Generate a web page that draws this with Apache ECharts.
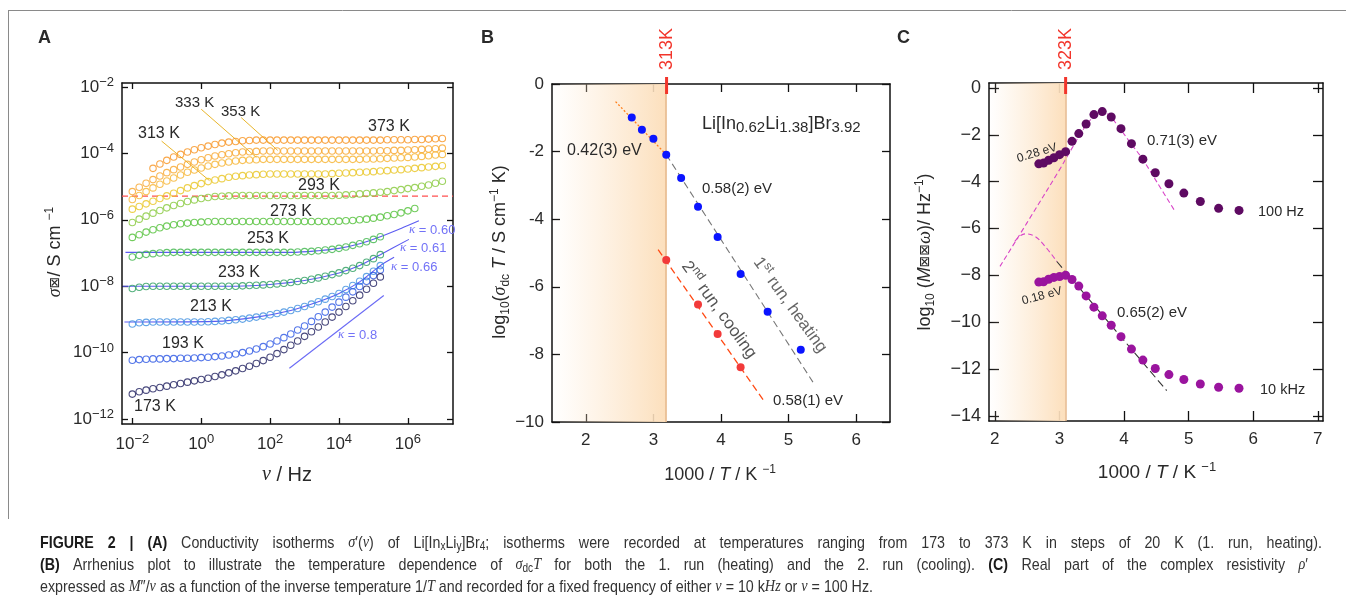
<!DOCTYPE html>
<html>
<head>
<meta charset="utf-8">
<script src="https://cdn.jsdelivr.net/npm/echarts@6/dist/echarts.min.js"></script>
<style>
  html, body { margin: 0; padding: 0; background: #fff; }
  #main { width: 1346px; height: 602px; }
</style>
</head>
<body>
<div id="main"></div>
<script>
// ---- panel A : conductivity isotherms, log10 values ----
var logFreq = [-2,-1.8,-1.6,-1.4,-1.2,-1,-0.8,-0.6,-0.4,-0.2,0,0.2,0.4,0.6,0.8,1,1.2,1.4,1.6,1.8,
  2,2.2,2.4,2.6,2.8,3,3.2,3.4,3.6,3.8,4,4.2,4.4,4.6,4.8,5,5.2,5.4,5.6,5.8,6,6.2,6.4,6.6,6.8,7];

var sig373 = [null,null,null,-4.45,-4.32,-4.21,-4.11,-4.03,-3.96,-3.89,-3.83,-3.78,-3.73,-3.69,-3.66,-3.64,-3.62,-3.61,
  -3.60,-3.60,-3.60,-3.60,-3.60,-3.60,-3.60,-3.60,-3.60,-3.60,-3.60,-3.60,-3.60,-3.60,-3.60,-3.60,-3.60,-3.60,-3.60,
  -3.59,-3.59,-3.59,-3.59,-3.58,-3.58,-3.57,-3.56,-3.55];
var sig353 = [-5.15,-5.02,-4.90,-4.79,-4.68,-4.58,-4.49,-4.41,-4.33,-4.26,-4.19,-4.13,-4.08,-4.04,-4.01,-3.98,-3.96,-3.95,-3.94,-3.93,
  -3.93,-3.93,-3.93,-3.93,-3.93,-3.93,-3.93,-3.93,-3.93,-3.93,-3.93,-3.93,-3.93,-3.93,-3.93,-3.93,
  -3.92,-3.92,-3.91,-3.91,-3.90,-3.89,-3.88,-3.87,-3.86,-3.84];
var sig333 = [-5.39,-5.27,-5.15,-5.04,-4.93,-4.83,-4.74,-4.65,-4.57,-4.50,-4.44,-4.38,-4.33,-4.29,-4.26,-4.23,-4.21,-4.20,-4.19,
  -4.18,-4.18,-4.18,-4.18,-4.18,-4.18,-4.18,-4.18,-4.18,-4.18,-4.18,-4.18,-4.18,-4.18,-4.18,
  -4.17,-4.17,-4.16,-4.15,-4.14,-4.13,-4.12,-4.11,-4.09,-4.07,-4.05,-4.03];
var sig313 = [-5.68,-5.60,-5.52,-5.44,-5.36,-5.28,-5.20,-5.12,-5.04,-4.97,-4.91,-4.85,-4.80,-4.76,-4.72,-4.69,-4.67,-4.65,-4.64,-4.63,
  -4.62,-4.62,-4.62,-4.62,-4.62,-4.62,-4.62,-4.62,-4.62,
  -4.61,-4.60,-4.59,-4.58,-4.57,-4.56,-4.55,-4.53,-4.52,-4.50,-4.49,-4.47,-4.45,-4.43,-4.41,-4.39,-4.37];
var sig293 = [-6.08,-5.98,-5.89,-5.80,-5.72,-5.64,-5.57,-5.51,-5.45,-5.40,-5.36,-5.33,-5.30,-5.29,-5.28,
  -5.27,-5.27,-5.27,-5.27,-5.27,-5.27,-5.27,-5.27,-5.27,-5.27,-5.27,-5.27,-5.27,-5.27,-5.27,
  -5.26,-5.25,-5.24,-5.22,-5.21,-5.19,-5.17,-5.15,-5.12,-5.09,-5.06,-5.03,-4.99,-4.95,-4.90,-4.84];
var sig273 = [-6.53,-6.45,-6.37,-6.30,-6.24,-6.19,-6.15,-6.12,-6.10,-6.08,-6.07,-6.06,
  -6.05,-6.05,-6.05,-6.05,-6.05,-6.05,-6.05,-6.05,-6.05,-6.05,-6.05,-6.05,-6.05,-6.05,-6.05,-6.05,-6.05,-6.05,
  -6.04,-6.03,-6.02,-6.00,-5.98,-5.95,-5.92,-5.88,-5.84,-5.79,-5.73,-5.66];
var sig253 = [-7.12,-7.07,-7.04,-7.02,-7.00,-6.99,
  -6.98,-6.98,-6.98,-6.98,-6.98,-6.98,-6.98,-6.98,-6.98,-6.98,-6.98,-6.98,-6.98,-6.98,-6.98,-6.98,-6.98,-6.98,
  -6.97,-6.96,-6.95,-6.93,-6.91,-6.89,-6.86,-6.82,-6.77,-6.72,-6.66,-6.59,-6.51];
var sig233 = [-8.07,-8.03,-8.01,-8.00,-8.00,-8.00,-8.00,-8.00,-8.00,-8.00,-8.00,-8.00,-8.00,-8.00,-8.00,-8.00,
  -7.99,-7.98,-7.97,-7.96,-7.95,-7.93,-7.91,-7.89,-7.86,-7.83,-7.79,-7.75,-7.70,-7.65,-7.60,-7.53,-7.46,-7.38,-7.28,-7.17,-7.05];
var sig213 = [-9.14,-9.10,-9.09,-9.08,-9.08,-9.08,-9.08,-9.08,-9.08,-9.08,-9.08,-9.07,-9.06,-9.05,-9.03,-9.01,
  -8.99,-8.96,-8.93,-8.90,-8.86,-8.82,-8.78,-8.73,-8.67,-8.61,-8.54,-8.47,-8.39,-8.31,-8.22,-8.10,-7.98,-7.85,-7.71,-7.55,-7.38];
var sig193 = [-10.23,-10.21,-10.20,-10.19,-10.19,-10.18,-10.18,-10.17,-10.17,-10.16,-10.15,-10.14,-10.12,-10.10,-10.07,-10.04,
  -10.00,-9.95,-9.89,-9.82,-9.74,-9.65,-9.55,-9.44,-9.32,-9.20,-9.06,-8.92,-8.78,-8.63,-8.48,-8.33,-8.17,-8.01,-7.85,-7.68,-7.51];
var sig173 = [-11.25,-11.18,-11.13,-11.09,-11.05,-11.01,-10.97,-10.93,-10.89,-10.85,-10.81,-10.77,-10.72,-10.67,-10.61,-10.55,
  -10.48,-10.41,-10.33,-10.24,-10.14,-10.03,-9.91,-9.78,-9.65,-9.51,-9.37,-9.23,-9.08,-8.93,-8.78,-8.61,-8.44,-8.27,-8.09,-7.91,-7.72];

var isoNames = ['373 K','353 K','333 K','313 K','293 K','273 K','253 K','233 K','213 K','193 K','173 K'];
var isoValues = [sig373, sig353, sig333, sig313, sig293, sig273, sig253, sig233, sig213, sig193, sig173];
var isoColors = ['#f7921e','#f8a52a','#f6b32e','#e8c41f','#86c83a','#4fbf35','#3db54a','#2b9e5e','#3d8fe0','#2b55e3','#1d1d5e'];

var fit253 = [[-2.2,-6.98],[2.6,-6.98],[3.4,-6.93],[4.0,-6.86],[4.6,-6.72],[5.2,-6.51],[5.8,-6.26],[6.32,-6.03]];
var fit233 = [[-2.28,-8.0],[1.0,-8.0],[2.0,-7.95],[3.0,-7.83],[4.0,-7.60],[4.6,-7.38],[5.2,-7.05],[6.03,-6.59]];
var fit213 = [[-2.23,-9.08],[0.4,-9.06],[1.6,-8.93],[2.6,-8.73],[3.4,-8.47],[4.0,-8.22],[4.6,-7.87],[5.2,-7.38],[5.6,-7.13]];
var slope08 = [[2.56,-10.47],[5.30,-8.28]];
var redLevel = [[-2.3,-5.29],[7.31,-5.29]];
var lead333 = [[0.0,-2.67],[1.6,-4.12]];
var lead353 = [[1.16,-2.92],[2.22,-3.91]];
var lead313 = [[-1.15,-3.63],[0.24,-4.82]];

// ---- panel B : Arrhenius plot ----
var invT1 = [2.68, 2.83, 3.00, 3.19, 3.41, 3.66, 3.95, 4.29, 4.69, 5.18];
var logSigT1 = [-0.99, -1.35, -1.62, -2.09, -2.78, -3.63, -4.53, -5.62, -6.74, -7.86];
var invT2 = [3.19, 3.66, 3.95, 4.29];
var logSigT2 = [-5.21, -6.52, -7.40, -8.38];
var fitHot = [[2.44,-0.52],[3.19,-2.09]];
var fitRun1 = [[3.19,-2.09],[5.36,-8.82]];
var fitRun2 = [[3.07,-4.90],[4.63,-9.36]];

// ---- panel C : M''/nu vs 1000/T ----
var invTC = [2.681,2.755,2.833,2.915,3.003,3.096,3.195,3.300,3.413,3.534,3.663,3.802,3.953,4.115,4.292,4.484,4.695,4.926,5.181,5.464,5.780];
var logM100 = [-3.24,-3.21,-3.09,-2.98,-2.85,-2.72,-2.28,-1.95,-1.54,-1.14,-1.01,-1.24,-1.74,-2.38,-3.04,-3.62,-4.09,-4.49,-4.85,-5.14,-5.23];
var logM10k = [-8.29,-8.28,-8.17,-8.09,-8.05,-8.00,-8.18,-8.46,-8.88,-9.36,-9.73,-10.13,-10.62,-11.15,-11.62,-11.98,-12.24,-12.45,-12.64,-12.78,-12.82];
var model100 = [[2.08,-7.62],[2.5,-5.75],[3.0,-3.5],[3.2,-2.55],[3.35,-1.85],[3.5,-1.3],[3.62,-1.05],[3.75,-1.12],[3.9,-1.6],[4.1,-2.35],[4.29,-3.05],[4.5,-3.98],[4.79,-5.27]];
var model10k = [[2.31,-6.55],[2.40,-6.30],[2.47,-6.23],[2.62,-6.34],[2.78,-6.77],[2.96,-7.41]];
var fit10k = [[2.96,-7.41],[4.66,-12.92]];

var T_B = 313, T_C = 323;

var FONT = "'Liberation Sans', Arial, Helvetica, sans-serif";
var SERIF = "'Liberation Serif', 'Times New Roman', serif";
var INK = '#2a2a2a';

function pairs(xs, ys) { return xs.map(function (x, i) { return [x, ys[i]]; }); }

function supRich(fs) {
  return {
    b: { fontSize: fs, fontFamily: FONT, color: INK, lineHeight: Math.round(fs * 1.3) },
    s: { fontSize: 13, fontFamily: FONT, color: INK, verticalAlign: 'top', lineHeight: 13 }
  };
}

function axis(gridIndex, pos, min, max, ticks, tickLen, labels, fmt, rich) {
  return {
    type: 'value', gridIndex: gridIndex, position: pos, min: min, max: max,
    axisLine: { show: true, onZero: false, lineStyle: { color: '#111', width: 1.5 } },
    axisTick: { show: true, inside: true, length: tickLen, customValues: ticks, lineStyle: { color: '#111', width: 1.3 } },
    axisLabel: labels ? { show: true, customValues: ticks, formatter: fmt, rich: rich, margin: 8,
      color: INK, fontSize: 17, fontFamily: FONT } : { show: false },
    splitLine: { show: false }
  };
}

var powFmt = function (v) { return '{b|10}{s|' + (v < 0 ? '\u2212' : '') + Math.abs(v) + '}'; };
var fmtB = function (v) { return v === 0 ? '0' : (v === -10 ? '\u221210' : '-' + Math.abs(v)); };
var fmtC = function (v) { return v === 0 ? '0' : '\u2212' + Math.abs(v); };

var tA_x = [-2, 0, 2, 4, 6], tA_y = [-12, -10, -8, -6, -4, -2];
var tB_x = [2, 3, 4, 5, 6], tB_y = [-10, -8, -6, -4, -2, 0];
var tC_x = [2, 3, 4, 5, 6, 7], tC_y = [-14, -12, -10, -8, -6, -4, -2, 0];

var xAxes = [
  axis(0, 'bottom', -2.30, 7.31, tA_x, 6, true, powFmt, supRich(17)),
  axis(0, 'top', -2.30, 7.31, tA_x, 6, false),
  axis(1, 'bottom', 1.5, 6.5, tB_x, 8, true, function (v) { return String(v); }),
  axis(1, 'top', 1.5, 6.5, tB_x, 8, false),
  axis(2, 'bottom', 1.91, 7.08, tC_x, 10, true, function (v) { return String(v); }),
  axis(2, 'top', 1.91, 7.08, tC_x, 10, false)
];
var yAxes = [
  axis(0, 'left', -12.15, -1.88, tA_y, 6, true, powFmt, supRich(17)),
  axis(0, 'right', -12.15, -1.88, tA_y, 6, false),
  axis(1, 'left', -10, 0, tB_y, 8, true, fmtB),
  axis(1, 'right', -10, 0, tB_y, 8, false),
  axis(2, 'left', -14.22, 0.21, tC_y, 10, true, fmtC),
  axis(2, 'right', -14.22, 0.21, tC_y, 10, false)
];
xAxes[0].axisLabel.margin = 9;
xAxes[2].axisLabel.margin = 10;
xAxes[4].axisLabel.margin = 10;
yAxes[4].axisLabel.fontSize = 18;

// panel index -> axis index
var AX = { A: 0, B: 2, C: 4 };

function line(ai, data, color, width, type, extra) {
  var s = {
    type: 'line', xAxisIndex: ai, yAxisIndex: ai, data: data, showSymbol: false, symbol: 'none',
    lineStyle: { color: color, width: width, type: type }, silent: true, z: 3
  };
  for (var k in extra) s[k] = extra[k];
  return s;
}
function dots(ai, data, color, size) {
  return { type: 'scatter', xAxisIndex: ai, yAxisIndex: ai, data: data, symbol: 'circle', symbolSize: size,
    itemStyle: { color: color, opacity: 1 }, silent: true, z: 5 };
}

var shadeGrad = function () {
  return new echarts.graphic.LinearGradient(0, 0, 1, 0, [
    { offset: 0, color: 'rgba(253,229,200,0)' },
    { offset: 1, color: 'rgba(252,223,188,1)' }
  ]);
};

var series = [];
// A
isoValues.forEach(function (vals, k) {
  var data = [];
  vals.forEach(function (v, i) { if (v != null) data.push([logFreq[i], v]); });
  series.push({
    type: 'scatter', name: isoNames[k], xAxisIndex: AX.A, yAxisIndex: AX.A, data: data, symbol: 'circle', symbolSize: 6.5,
    itemStyle: { color: 'rgba(255,255,255,0)', borderColor: isoColors[k], borderWidth: 1.1 }, silent: true, z: 4
  });
});
series.push(line(AX.A, redLevel, '#ff5050', 1.2, [6, 4]));
series.push(line(AX.A, fit253, '#5c5cf2', 1.1, 'solid', { smooth: 0.3 }));
series.push(line(AX.A, fit233, '#5c5cf2', 1.1, 'solid', { smooth: 0.3 }));
series.push(line(AX.A, fit213, '#5c5cf2', 1.1, 'solid', { smooth: 0.3 }));
series.push(line(AX.A, slope08, '#6a6af5', 1.1, 'solid'));
series.push(line(AX.A, lead333, '#e9b62c', 1, 'solid'));
series.push(line(AX.A, lead353, '#e9b62c', 1, 'solid'));
series.push(line(AX.A, lead313, '#e9b62c', 1, 'solid'));
// B
series.push(line(AX.B, fitHot, '#ff7f1a', 1.3, [2, 2], {
  z: 2,
  markArea: { silent: true, data: [[{ xAxis: 1.5 }, { xAxis: 1000 / T_B }]], itemStyle: { color: shadeGrad() } },
  markLine: { silent: true, symbol: 'none', label: { show: false }, data: [{ xAxis: 1000 / T_B }],
    lineStyle: { color: '#e6b98c', width: 1.5, type: 'solid' } }
}));
series.push(line(AX.B, fitRun1, '#777', 1.1, [7, 4]));
series.push(line(AX.B, fitRun2, '#ff4a14', 1.3, [7, 4]));
series.push(dots(AX.B, pairs(invT1, logSigT1), '#0a14ff', 8));
series.push(dots(AX.B, pairs(invT2, logSigT2), '#f23a3a', 8));
// C
series.push(line(AX.C, model100, '#d844c8', 1.1, [5, 3], {
  smooth: 0.35, z: 3,
  markArea: { silent: true, data: [[{ xAxis: 1.91 }, { xAxis: 1000 / T_C }]], itemStyle: { color: shadeGrad() } },
  markLine: { silent: true, symbol: 'none', label: { show: false }, data: [{ xAxis: 1000 / T_C }],
    lineStyle: { color: '#e6b98c', width: 1.5, type: 'solid' } }
}));
series.push(line(AX.C, model10k, '#d844c8', 1.1, [5, 3], { smooth: 0.4 }));
series.push(line(AX.C, fit10k, '#333', 1.1, [8, 4]));
series.push(dots(AX.C, pairs(invTC, logM100), '#5e0a62', 9));
series.push(dots(AX.C, pairs(invTC, logM10k), '#9a149e', 9));

var chart = echarts.init(document.getElementById('main'));
chart.setOption({
  animation: false,
  backgroundColor: '#fff',
  grid: [
    { left: 122, top: 83, width: 331, height: 341, outerBoundsMode: 'none' },
    { left: 552, top: 84, width: 338, height: 338, outerBoundsMode: 'none' },
    { left: 989, top: 83, width: 334, height: 338, outerBoundsMode: 'none' }
  ],
  xAxis: xAxes,
  yAxis: yAxes,
  series: series
});

// ---- annotations ----
function rich(fs) {
  var sm = Math.round(fs * 0.68);
  return {
    n: { fontSize: fs, fontFamily: FONT, fill: INK, color: INK, lineHeight: Math.round(fs * 1.3) },
    i: { fontSize: fs, fontFamily: SERIF, fontStyle: 'italic', fill: INK, color: INK, lineHeight: Math.round(fs * 1.3) },
    it: { fontSize: fs, fontFamily: FONT, fontStyle: 'italic', fill: INK, color: INK, lineHeight: Math.round(fs * 1.3) },
    bx: { fontSize: Math.round(fs * 0.8), fontFamily: "'DejaVu Sans', sans-serif", fill: INK, color: INK },
    sup: { fontSize: sm, fontFamily: FONT, fill: INK, color: INK, verticalAlign: 'top', lineHeight: sm },
    sub: { fontSize: sm, fontFamily: FONT, fill: INK, color: INK, verticalAlign: 'bottom', lineHeight: sm }
  };
}
function T(x, y, text, o) {
  o = o || {};
  var fs = o.fs || 16;
  var r = rich(fs);
  if (o.color) { for (var k in r) { r[k].fill = o.color; r[k].color = o.color; } }
  if (o.sub) { r.sub.fontSize = o.sub; r.sub.lineHeight = o.sub; }
  return {
    type: 'text', x: x, y: y, rotation: (o.rot || 0) * Math.PI / 180, silent: true, z: 100,
    style: {
      text: text, rich: r, fontSize: fs, fontFamily: o.font || FONT, fontWeight: o.bold ? 'bold' : 'normal',
      fill: o.color || INK,
      align: o.align || 'left', textAlign: o.align || 'left',
      verticalAlign: 'middle', textVerticalAlign: 'middle'
    }
  };
}

var g = [];
// frame
g.push({ type: 'line', shape: { x1: 8, y1: 10.5, x2: 1346, y2: 10.5 }, style: { stroke: '#8a8a8a', lineWidth: 1 }, silent: true });
g.push({ type: 'line', shape: { x1: 8.5, y1: 10, x2: 8.5, y2: 519 }, style: { stroke: '#8a8a8a', lineWidth: 1 }, silent: true });

// panel letters
g.push(T(38, 38, 'A', { fs: 18, bold: true }));
g.push(T(481, 38, 'B', { fs: 18, bold: true }));
g.push(T(897, 38, 'C', { fs: 18, bold: true }));

// panel A texts
[['373 K', 368, 127], ['333 K', 175, 103], ['353 K', 221, 112], ['313 K', 138, 134], ['293 K', 298, 186],
 ['273 K', 270, 212], ['253 K', 247, 239], ['233 K', 218, 273], ['213 K', 190, 307], ['193 K', 162, 344], ['173 K', 134, 407]
].forEach(function (a) { g.push(T(a[1], a[2], a[0], { fs: a[0] === '333 K' || a[0] === '353 K' ? 15 : 16 })); });
var kap = '#7272f7';
g.push(T(409, 230, '{i|\u03ba}{n| = 0.60}', { fs: 13, color: kap }));
g.push(T(400, 248, '{i|\u03ba}{n| = 0.61}', { fs: 13, color: kap }));
g.push(T(391, 267, '{i|\u03ba}{n| = 0.66}', { fs: 13, color: kap }));
g.push(T(338, 335, '{i|\u03ba}{n| = 0.8}', { fs: 13, color: kap }));
g.push(T(287, 475, '{i|\u03bd}{n| / Hz}', { fs: 20, align: 'center' }));
g.push(T(55, 252, '{i|\u03c3}{bx|\u22a0}{n|/ S cm }{sup|\u22121}', { fs: 18, align: 'center', rot: 90 }));

// panel B texts
g.push(T(702, 124, '{n|Li[In}{sub|0.62}{n|Li}{sub|1.38}{n|]Br}{sub|3.92}', { fs: 18, sub: 15 }));
g.push(T(567, 151, '0.42(3) eV', { fs: 16 }));
g.push(T(702, 189, '0.58(2) eV', { fs: 15 }));
g.push(T(773, 401, '0.58(1) eV', { fs: 15 }));
g.push(T(790, 305, '{n|1}{sup|st}{n| run, heating}', { fs: 17, align: 'center', rot: -54, color: '#666' }));
g.push(T(719, 310, '{n|2}{sup|nd}{n| run, cooling}', { fs: 17, align: 'center', rot: -54, color: '#555' }));
g.push(T(720, 475, '{n|1000 / }{it|T}{n| / K }{sup|\u22121}', { fs: 18, align: 'center' }));
g.push(T(500, 252, '{n|log}{sub|10}{n|(}{i|\u03c3}{sub|dc}{n| }{it|T}{n| / S cm}{sup|\u22121}{n| K)}', { fs: 18, align: 'center', rot: 90 }));

// panel C texts
g.push(T(1037, 153, '0.28 eV', { fs: 12, align: 'center', rot: 17 }));
g.push(T(1147, 141, '0.71(3) eV', { fs: 15 }));
g.push(T(1258, 212, '100 Hz', { fs: 14.5 }));
g.push(T(1042, 296, '0.18 eV', { fs: 12, align: 'center', rot: 15 }));
g.push(T(1117, 313, '0.65(2) eV', { fs: 15 }));
g.push(T(1260, 390, '10 kHz', { fs: 14.5 }));
g.push(T(1157, 473, '{n|1000 / }{it|T}{n| / K }{sup|\u22121}', { fs: 19, align: 'center' }));
g.push(T(925, 252, '{n|log}{sub|10}{n| (}{it|M}{bx|\u22a0\u22a0}{i|\u03c9}{n|)/ Hz}{sup|\u22121}{n|)}', { fs: 18, align: 'center', rot: 90 }));

// temperature markers above B and C
var xB = chart.convertToPixel({ xAxisIndex: AX.B }, 1000 / T_B);
var xC = chart.convertToPixel({ xAxisIndex: AX.C }, 1000 / T_C);
[[xB, T_B], [xC, T_C]].forEach(function (m) {
  g.push({ type: 'line', shape: { x1: m[0], y1: 77, x2: m[0], y2: 94 }, style: { stroke: '#f2352b', lineWidth: 3 }, silent: true, z: 101 });
  g.push(T(m[0], 49, m[1] + 'K', { fs: 18, align: 'center', rot: 90, color: '#f2352b' }));
});

// ---- caption, justified word by word ----
var CAP_FS = 17, CAP_SUB = 12;
var capFonts = {
  b: 'bold ' + CAP_FS + 'px "Liberation Sans"',
  n: CAP_FS + 'px "Liberation Sans"',
  i: 'italic ' + CAP_FS + 'px "Liberation Serif"',
  sub: CAP_SUB + 'px "Liberation Sans"'
};
var capRich = {
  b: { fontSize: CAP_FS, fontFamily: FONT, fontWeight: 'bold', fill: '#1a1a1a', lineHeight: 20 },
  n: { fontSize: CAP_FS, fontFamily: FONT, fill: '#333', lineHeight: 20 },
  i: { fontSize: CAP_FS, fontFamily: SERIF, fontStyle: 'italic', fill: '#333', lineHeight: 20 },
  sub: { fontSize: CAP_SUB, fontFamily: FONT, fill: '#333', verticalAlign: 'bottom', lineHeight: 12 }
};
var cap1 = [['b', 'FIGURE 2 | (A)'], ['n', ' Conductivity isotherms '], ['i', '\u03c3'], ['n', '\u2032('], ['i', '\u03bd'],
  ['n', ') of Li[In'], ['sub', 'x'], ['n', 'Li'], ['sub', 'y'], ['n', ']Br'], ['sub', '4'],
  ['n', '; isotherms were recorded at temperatures ranging from 173 to 373 K in steps of 20 K (1. run, heating).']];
var cap2 = [['b', '(B)'], ['n', ' Arrhenius plot to illustrate the temperature dependence of '], ['i', '\u03c3'], ['sub', 'dc'], ['i', 'T'],
  ['n', ' for both the 1. run (heating) and the 2. run (cooling). '], ['b', '(C)'], ['n', ' Real part of the complex resistivity '],
  ['i', '\u03c1'], ['n', '\u2032']];
var cap3 = [['n', 'expressed as '], ['i', 'M'], ['n', '\u2033/'], ['i', '\u03bd'], ['n', ' as a function of the inverse temperature 1/'],
  ['i', 'T'], ['n', ' and recorded for a fixed frequency of either '], ['i', '\u03bd'], ['n', ' = 10 k'], ['i', 'Hz'],
  ['n', ' or '], ['i', '\u03bd'], ['n', ' = 100 Hz.']];

var ctx = document.createElement('canvas').getContext('2d');
function measure(st, s) { ctx.font = capFonts[st]; return ctx.measureText(s).width; }
function toWords(segs) {
  var words = [[]];
  segs.forEach(function (sg) {
    sg[1].split(' ').forEach(function (part, j) {
      if (j > 0 && words[words.length - 1].length) words.push([]);
      if (part !== '') words[words.length - 1].push([sg[0], part]);
    });
  });
  return words.filter(function (w) { return w.length; });
}
function wordWidth(w) { return w.reduce(function (a, p) { return a + measure(p[0], p[1]); }, 0); }
var spaceW = measure('n', ' ');
var w3 = toWords(cap3);
var nat3 = w3.reduce(function (a, w) { return a + wordWidth(w); }, 0) + spaceW * (w3.length - 1);
var capScale = 833 / nat3;

[[cap1, 543, 1282], [cap2, 565, 1268], [cap3, 587, null]].forEach(function (c) {
  var words = toWords(c[0]);
  var widths = words.map(wordWidth);
  var total = widths.reduce(function (a, b) { return a + b; }, 0) * capScale;
  var gap = c[2] ? (c[2] - total) / (words.length - 1) : spaceW * capScale;
  var x = 40;
  words.forEach(function (w, k) {
    g.push({ type: 'text', x: x, y: c[1], scaleX: capScale, silent: true,
      style: { text: w.map(function (p) { return '{' + p[0] + '|' + p[1] + '}'; }).join(''), rich: capRich,
        fontSize: CAP_FS, fontFamily: FONT, fill: '#333',
        align: 'left', textAlign: 'left', verticalAlign: 'middle', textVerticalAlign: 'middle' } });
    x += widths[k] * capScale + gap;
  });
});

chart.setOption({ graphic: { elements: g } });
</script>
</body>
</html>
